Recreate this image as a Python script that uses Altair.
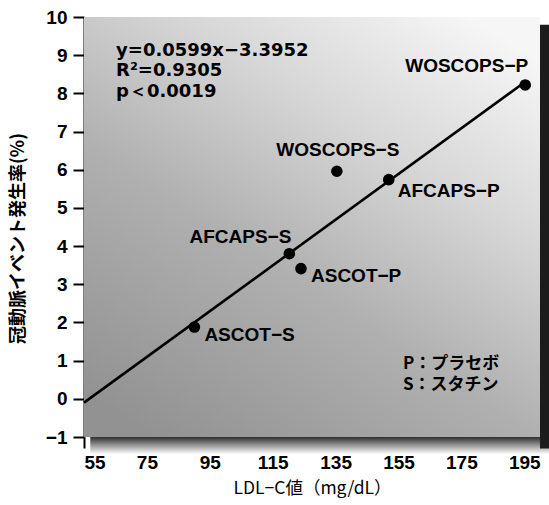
import altair as alt
import pandas as pd

# Trials: LDL-C level vs. coronary event rate
studies = ["WOSCOPS−P", "WOSCOPS−S", "AFCAPS−P", "AFCAPS−S", "ASCOT−P", "ASCOT−S"]
ldl_c = [195.3, 135.4, 151.9, 120.3, 124.0, 90.1]
event_rate = [8.22, 5.96, 5.74, 3.80, 3.41, 1.88]

# Regression line as reported
slope = 0.0599
intercept = -3.3952
line_x = [55, 195]

x_ticks = [55, 75, 95, 115, 135, 155, 175, 195]
y_ticks = [-1, 0, 1, 2, 3, 4, 5, 6, 7, 8, 9, 10]
x_domain = [55, 200]
y_domain = [-1, 10]

stats_text = ["y=0.0599x−3.3952", "R²=0.9305", "p＜0.0019"]
key_text = ["P：プラセボ", "S：スタチン"]

LATIN = "Liberation Sans"
WIDE = "DejaVu Sans"
CJK = "Noto Sans CJK JP"
FS = 19

points = pd.DataFrame({"study": studies, "ldl": ldl_c, "rate": event_rate})
line_df = pd.DataFrame({"ldl": line_x})

xs = alt.Scale(domain=x_domain, nice=False, zero=False)
ys = alt.Scale(domain=y_domain, nice=False, zero=False)

X_AXIS = alt.Axis(values=x_ticks, domain=False, grid=False, labelOverlap=False,
                  tickSize=11, tickWidth=2, tickColor="black",
                  labelFont=LATIN, labelFontWeight="bold", labelFontSize=FS,
                  labelColor="black", labelPadding=5,
                  title="LDL−C値（mg/dL）", titleFont=CJK, titleFontSize=17.5,
                  titleFontWeight="normal", titleColor="black", titlePadding=7)
Y_AXIS = alt.Axis(values=y_ticks, grid=False, domain=True, labelOverlap=False,
                  domainColor="black", domainWidth=2,
                  tickSize=11, tickWidth=2, tickColor="black",
                  labelFont=LATIN, labelFontWeight="bold", labelFontSize=FS,
                  labelColor="black", labelPadding=6,
                  title="冠動脈イベント発生率(%)", titleFont=CJK, titleFontSize=18,
                  titleFontWeight="bold", titleColor="black",
                  titleAngle=270, titleX=-66, titleY=221,
                  titleAlign="center", titleBaseline="middle")


def X(field):
    return alt.X(field, scale=xs, axis=X_AXIS)


def Y(field):
    return alt.Y(field, scale=ys, axis=Y_AXIS)


# Shaded panel with drop shadow
panel_df = pd.DataFrame({"x0": [x_domain[0]], "x1": [x_domain[1]],
                         "y0": [y_domain[0]], "y1": [y_domain[1]]})

right_shadow = alt.Chart(panel_df).mark_rect(color="#1c1c1c").encode(
    x=X("x1:Q"), x2=alt.X2("xs:Q"),
    y=Y("ys0:Q"), y2=alt.Y2("ys1:Q"),
).transform_calculate(xs="datum.x1 + 3", ys0="datum.y0 - 0.3", ys1="datum.y1 - 0.2")

bottom_shadow = alt.Chart(panel_df).mark_rect(
    color=alt.Gradient(
        gradient="linear",
        stops=[alt.GradientStop(color="#2e2e2e", offset=0),
               alt.GradientStop(color="#9a9a9a", offset=0.5),
               alt.GradientStop(color="#ffffff", offset=1)],
        x1=0, y1=0, x2=0, y2=1,
    )
).encode(
    x=X("xa:Q"), x2=alt.X2("xb:Q"),
    y=Y("y0:Q"), y2=alt.Y2("yb:Q"),
).transform_calculate(xa="datum.x0 + 2", xb="datum.x1 + 3", yb="datum.y0 - 0.45")

panel = alt.Chart(panel_df).mark_rect(
    color=alt.Gradient(
        gradient="linear",
        stops=[alt.GradientStop(color="#f6f6f6", offset=0),
               alt.GradientStop(color="#d6d6d6", offset=0.3),
               alt.GradientStop(color="#b0b0b0", offset=0.6),
               alt.GradientStop(color="#929292", offset=1)],
        x1=0.85, y1=0, x2=0.15, y2=1,
    )
).encode(
    x=X("x0:Q"), x2="x1:Q",
    y=Y("y0:Q"), y2="y1:Q",
)

fit = alt.Chart(line_df).transform_calculate(
    rate=f"datum.ldl * {slope} + ({intercept})"
).mark_line(color="black", strokeWidth=2.6).encode(
    x=X("ldl:Q"), y=Y("rate:Q"),
)

dots = alt.Chart(points).mark_circle(color="black", opacity=1, size=135).encode(
    x=X("ldl:Q"), y=Y("rate:Q"),
)

# Label placement for each study
placement = {
    "WOSCOPS−P": dict(align="right", dx=3, dy=-13),
    "WOSCOPS−S": dict(align="center", dx=1, dy=-15),
    "AFCAPS−P": dict(align="left", dx=9, dy=17),
    "AFCAPS−S": dict(align="right", dx=2, dy=-11),
    "ASCOT−P": dict(align="left", dx=10, dy=13),
    "ASCOT−S": dict(align="left", dx=10, dy=14),
}

labels = []
for name, opts in placement.items():
    labels.append(
        alt.Chart(points).transform_filter(alt.datum.study == name).mark_text(
            font=LATIN, fontWeight="bold", fontSize=FS, color="black",
            baseline="alphabetic", **opts
        ).encode(x=X("ldl:Q"), y=Y("rate:Q"), text="study:N")
    )

stats_df = pd.DataFrame({"x": [65.2], "y": [8.98], "t": ["\n".join(stats_text)]})
stats = alt.Chart(stats_df).mark_text(
    font=WIDE, fontWeight="bold", fontSize=18, color="black",
    align="left", baseline="alphabetic", lineBreak="\n", lineHeight=20.5,
).encode(x=X("x:Q"), y=Y("y:Q"), text="t:N")

key_df = pd.DataFrame({"x": [156.4], "y": [0.78], "t": ["\n".join(key_text)]})
key = alt.Chart(key_df).mark_text(
    font=CJK, fontWeight="bold", fontSize=17, color="black",
    align="left", baseline="alphabetic", lineBreak="\n", lineHeight=21,
).encode(x=X("x:Q"), y=Y("y:Q"), text="t:N")

chart = alt.layer(
    bottom_shadow, right_shadow, panel, fit, dots, *labels, stats, key
).properties(
    width=456, height=420,
    autosize=alt.AutoSizeParams(type="none"),
    padding={"left": 84, "top": 17, "right": 9, "bottom": 68},
    background="white",
).configure_view(stroke=None)

chart.save("out.html", embed_options={"renderer": "svg", "actions": False})
